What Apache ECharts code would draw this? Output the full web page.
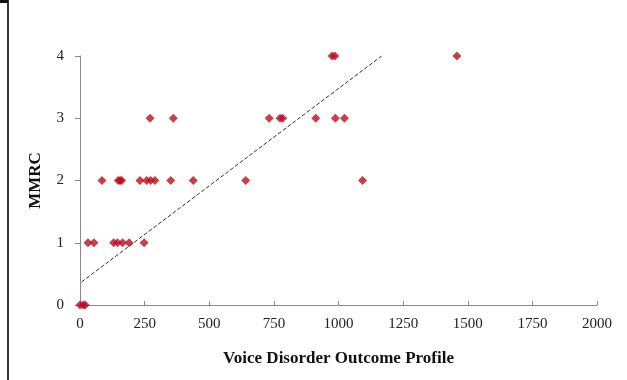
<!DOCTYPE html>
<html>
<head>
<meta charset="utf-8">
<script src="https://cdn.jsdelivr.net/npm/echarts@6/dist/echarts.min.js"></script>
<style>
  html, body { margin: 0; padding: 0; background: #fff; }
  #chart { width: 627px; height: 380px; }
</style>
</head>
<body>
<div id="chart"></div>
<script>
// VDOP scores (x) against MMRC grade (y)
const vdop = [
  0, 12, 20,
  31, 54, 130, 145, 165, 190, 248,
  85, 148, 155, 161, 232, 258, 273, 290, 351, 438, 641, 1093,
  271, 361, 732, 774, 784, 912, 988, 1023,
  975, 986, 1458
]
const mmrc = [
  0, 0, 0,
  1, 1, 1, 1, 1, 1, 1,
  2, 2, 2, 2, 2, 2, 2, 2, 2, 2, 2, 2,
  3, 3, 3, 3, 3, 3, 3, 3,
  4, 4, 4
]
// trend line ends
const trendX = [6, 1167]
const trendY = [0.37, 4]

const xTicks = [0, 250, 500, 750, 1000, 1250, 1500, 1750, 2000]
const yTicks = [0, 1, 2, 3, 4]

const chart = echarts.init(document.getElementById('chart'))

const option = {
  animation: false,
  backgroundColor: '#fff',
  grid: {
    left: 80,
    right: 30,
    top: 56,
    bottom: 75
  },
  xAxis: {
    type: 'value',
    min: xTicks[0],
    max: xTicks[xTicks.length - 1],
    interval: 250,
    name: 'Voice Disorder Outcome Profile',
    nameLocation: 'middle',
    nameGap: 45,
    nameTextStyle: {
      fontFamily: 'Liberation Serif',
      fontWeight: 'bold',
      fontSize: 17,
      color: '#111'
    },
    axisLine: { lineStyle: { color: '#888', width: 1 } },
    axisTick: { show: true, inside: true, length: 4, lineStyle: { color: '#888' } },
    axisLabel: {
      fontFamily: 'Liberation Serif',
      fontSize: 15,
      color: '#222',
      margin: 12,
      formatter: v => String(v)
    },
    splitLine: { show: false }
  },
  yAxis: {
    type: 'value',
    min: yTicks[0],
    max: yTicks[yTicks.length - 1],
    interval: 1,
    name: 'MMRC',
    nameLocation: 'middle',
    nameGap: 36,
    nameRotate: 90,
    nameTextStyle: {
      fontFamily: 'Liberation Serif',
      fontWeight: 'bold',
      fontSize: 17,
      color: '#111'
    },
    axisLine: { show: true, lineStyle: { color: '#888', width: 1 } },
    axisTick: { show: true, length: 5, lineStyle: { color: '#888' } },
    axisLabel: {
      fontFamily: 'Liberation Serif',
      fontSize: 15,
      color: '#222',
      margin: 16
    },
    splitLine: { show: false }
  },
  graphic: [
    {
      type: 'line',
      shape: { x1: 8, y1: 0, x2: 8, y2: 380 },
      style: { stroke: '#333', lineWidth: 2 }
    },
    {
      type: 'rect',
      shape: { x: 0, y: 0, width: 8, height: 3 },
      style: { fill: '#111' }
    }
  ],
  series: [
    {
      name: 'trend',
      type: 'line',
      data: trendX.map((x, i) => [x, trendY[i]]),
      symbol: 'none',
      lineStyle: { color: '#333', width: 1, type: [4, 2] },
      z: 1
    },
    {
      name: 'patients',
      type: 'scatter',
      data: vdop.map((x, i) => [x, mmrc[i]]),
      symbol: 'diamond',
      symbolSize: 9,
      itemStyle: { color: '#b80f1e' },
      z: 2
    }
  ]
}

chart.setOption(option)
</script>
</body>
</html>
